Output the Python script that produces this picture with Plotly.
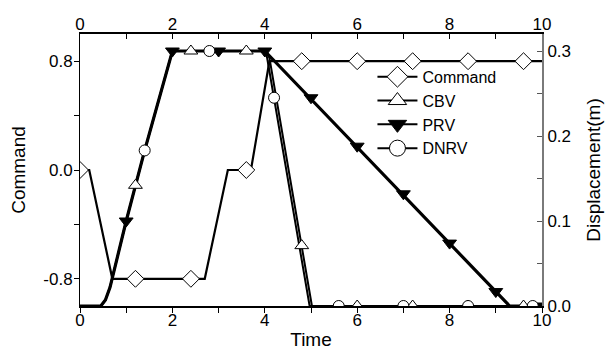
import plotly.graph_objects as go

# ---- data ----
# Command (left axis) line vertices
cmd_t = [0, 0.2, 0.7, 2.7, 3.2, 3.7, 4.1, 10]
cmd_v = [0.0, 0.0, -0.8, -0.8, 0.0, 0.0, 0.8, 0.8]
# Command marker points
cmd_mt = [0, 1.2, 2.4, 3.6, 4.8, 6.0, 7.2, 8.4, 9.6]
cmd_mv = [0.0, -0.8, -0.8, 0.0, 0.8, 0.8, 0.8, 0.8, 0.8]

# CBV displacement (right axis)
cbv_t = [0, 0.45, 0.55, 0.65, 1.0, 1.4, 2.0, 4.0, 4.1, 5.02, 10]
cbv_v = [0, 0, 0.007, 0.022, 0.1, 0.183, 0.3, 0.3, 0.292, 0, 0]
cbv_mt = [1.2, 2.4, 3.6, 4.8, 6.0, 7.2, 8.4, 9.6]
cbv_mv = [0.142, 0.3, 0.3, 0.071, 0, 0, 0, 0]

# PRV displacement
prv_t = [0, 0.45, 0.55, 0.65, 1.0, 1.4, 2.0, 4.0, 9.3, 10]
prv_v = [0, 0, 0.007, 0.022, 0.1, 0.183, 0.3, 0.3, 0, 0]
prv_mt = [1, 2, 3, 4, 5, 6, 7, 8, 9, 10]
prv_mv = [0.1, 0.3, 0.3, 0.3, 0.245, 0.188, 0.132, 0.074, 0.017, 0]

# DNRV displacement
dnrv_t = [0, 0.45, 0.55, 0.65, 1.0, 1.4, 2.0, 4.0, 4.05, 4.97, 10]
dnrv_v = [0, 0, 0.007, 0.022, 0.1, 0.183, 0.3, 0.3, 0.292, 0, 0]
dnrv_mt = [1.4, 2.8, 4.2, 5.6, 7.0, 8.4, 9.8]
dnrv_mv = [0.183, 0.3, 0.245, 0, 0, 0, 0]

left_ticks = [-0.8, 0.0, 0.8]
left_ticktext = ["-0.8", "0.0", "0.8"]

FONT = "Arial, Liberation Sans, sans-serif"
fig = go.Figure()

# lines
fig.add_trace(go.Scatter(x=prv_t, y=prv_v, mode="lines", yaxis="y2",
                         line=dict(color="black", width=3.2), showlegend=False))
fig.add_trace(go.Scatter(x=cbv_t, y=cbv_v, mode="lines", yaxis="y2",
                         line=dict(color="black", width=2), showlegend=False))
fig.add_trace(go.Scatter(x=dnrv_t, y=dnrv_v, mode="lines", yaxis="y2",
                         line=dict(color="black", width=2), showlegend=False))
fig.add_trace(go.Scatter(x=cmd_t, y=cmd_v, mode="lines", yaxis="y",
                         line=dict(color="black", width=2.2), showlegend=False))

# markers
mk_line = dict(color="black", width=1)
fig.add_trace(go.Scatter(x=cmd_mt, y=cmd_mv, mode="markers", yaxis="y",
                         marker=dict(symbol="diamond", size=13, color="white", line=mk_line),
                         showlegend=False))
fig.add_trace(go.Scatter(x=cbv_mt, y=cbv_mv, mode="markers", yaxis="y2",
                         marker=dict(symbol="triangle-up", size=12, color="white", line=mk_line),
                         showlegend=False))
fig.add_trace(go.Scatter(x=prv_mt, y=prv_mv, mode="markers", yaxis="y2",
                         marker=dict(symbol="triangle-down", size=12, color="black", line=mk_line),
                         showlegend=False))
fig.add_trace(go.Scatter(x=dnrv_mt, y=dnrv_mv, mode="markers", yaxis="y2",
                         marker=dict(symbol="circle", size=11, color="white", line=mk_line),
                         showlegend=False))

# legend entries
for name, sym, fill in [("Command", "diamond", "white"), ("CBV", "triangle-up", "white"),
                        ("PRV", "triangle-down", "black"), ("DNRV", "circle", "white")]:
    fig.add_trace(go.Scatter(x=[None], y=[None], mode="lines+markers", name=name,
                             line=dict(color="black", width=2),
                             marker=dict(symbol=sym, size=16, color=fill,
                                         line=dict(color="black", width=1))))

# dummy trace to anchor top axis
fig.add_trace(go.Scatter(x=[None], y=[None], xaxis="x2", yaxis="y", showlegend=False))

tickfont = dict(family=FONT, size=17, color="black")
titlefont = dict(family=FONT, size=19, color="black")

# page has an 8px body margin: figure is 608x350 so the plot area sits at x 80..542, y 34..306
fig.update_layout(
    width=608, height=350,
    margin=dict(l=72, r=74, t=26, b=52, autoexpand=False),
    paper_bgcolor="white", plot_bgcolor="white",
    font=dict(family=FONT, color="black"),
    xaxis=dict(range=[0, 10], dtick=2, tick0=0, showgrid=False, zeroline=False, automargin=False,
               showline=True, linecolor="black", linewidth=1.5,
               ticks="outside", ticklen=5, tickwidth=1, tickcolor="black",
               minor=dict(dtick=1, ticks="outside", ticklen=5, tickcolor="black", showgrid=False),
               tickfont=tickfont, ticklabelstandoff=-7,
               title=dict(text="Time", font=titlefont, standoff=4)),
    xaxis2=dict(range=[0, 10], dtick=2, tick0=0, overlaying="x", side="top", anchor="y",
                automargin=False,
                showgrid=False, zeroline=False, showline=True, linecolor="black", linewidth=1.5,
                ticks="inside", ticklen=5, tickwidth=1, tickcolor="black",
                minor=dict(dtick=1, ticks="inside", ticklen=5, tickcolor="black", showgrid=False),
                tickfont=tickfont, ticklabelstandoff=-5),
    yaxis=dict(range=[-1, 1], tickvals=left_ticks, ticktext=left_ticktext, automargin=False,
               showgrid=False, zeroline=False, showline=True, linecolor="black", linewidth=1,
               ticks="outside", ticklen=5, tickwidth=1, tickcolor="black",
               minor=dict(dtick=0.4, tick0=0, ticks="outside", ticklen=5, tickcolor="black", showgrid=False),
               tickfont=tickfont, ticklabelstandoff=-2,
               title=dict(text="Command", font=titlefont, standoff=14)),
    yaxis2=dict(range=[0, 0.32], dtick=0.1, tick0=0, tickformat=".1f", overlaying="y", side="right",
                anchor="x", automargin=False,
                showgrid=False, zeroline=False, showline=True, linecolor="#7a7a7a", linewidth=2,
                ticks="inside", ticklen=5, tickwidth=1, tickcolor="#555555",
                minor=dict(dtick=0.05, ticks="inside", ticklen=5, tickcolor="#555555", showgrid=False),
                tickfont=tickfont,
                title=dict(text="Displacement(m)", font=titlefont, standoff=17)),
    legend=dict(x=0.633, y=0.905, xanchor="left", yanchor="top", bgcolor="rgba(0,0,0,0)",
                font=dict(family=FONT, size=16, color="black"), itemwidth=40,
                tracegroupgap=0),
    hovermode=False,
)

fig.write_html("out.html")
